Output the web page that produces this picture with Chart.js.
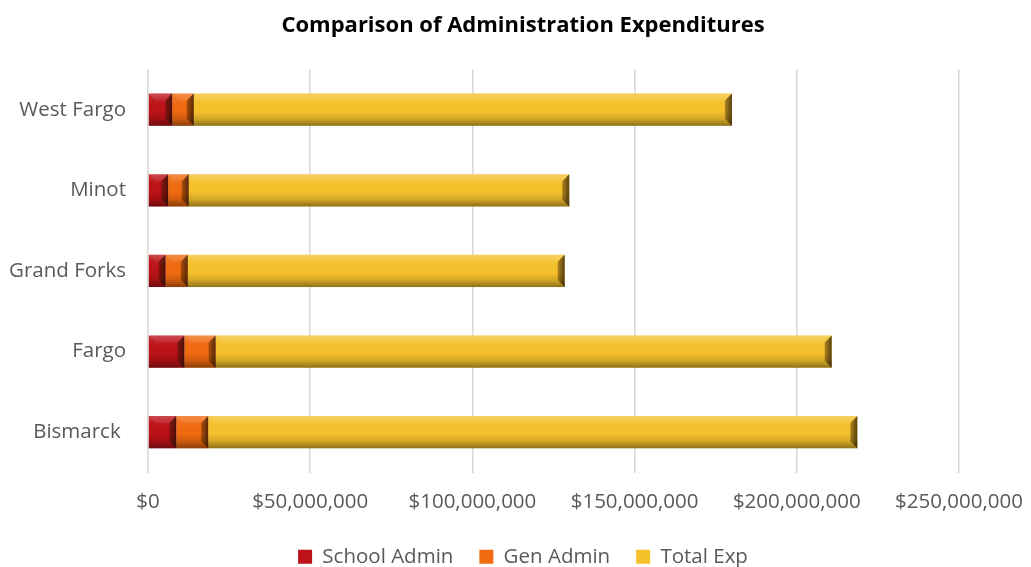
<!DOCTYPE html>
<html>
<head>
<meta charset="utf-8">
<script src="https://cdnjs.cloudflare.com/ajax/libs/Chart.js/4.4.1/chart.umd.js"></script>
<style>
html,body{margin:0;padding:0;background:#fff;}
#wrap{width:1031px;height:567px;position:relative;}
</style>
</head>
<body>
<div id="wrap"><canvas id="adminChart"></canvas></div>
<script>
const categories=['West Fargo','Minot','Grand Forks','Fargo','Bismarck '];
const seriesNames=['School Admin','Gen Admin','Total Exp'];
const schoolAdmin=[7450000,6200000,5400000,11200000,8700000];
const genAdmin=[6650000,6350000,6850000,9650000,9850000];
const totalExp=[165900000,117300000,116200000,189900000,200100000];
const xMax=250000000,xStep=50000000;
const faceColors=['#bc1218','#f06a10','#f5c12b'];

const fmtMoney=v=>'$'+Number(v).toLocaleString('en-US');

// bevel look drawn over each bar, using the bar element's own geometry
const bevelPlugin={
  id:'bevel',
  afterDatasetsDraw(chart){
    const ctx=chart.ctx;
    chart.data.datasets.forEach((ds,di)=>{
      const meta=chart.getDatasetMeta(di);
      if(meta.hidden) return;
      meta.data.forEach(el=>{
        const p=el.getProps(['x','y','base','height'],true);
        const l=Math.min(p.x,p.base),r=Math.max(p.x,p.base);
        const t=p.y-p.height/2,b=p.y+p.height/2;
        const w=r-l,bv=Math.min(7,w/2);
        ctx.save();
        const g=ctx.createLinearGradient(0,t,0,b);
        g.addColorStop(0,'rgba(255,255,255,0.18)');
        g.addColorStop(0.2,'rgba(255,255,255,0.04)');
        g.addColorStop(0.55,'rgba(0,0,0,0)');
        g.addColorStop(0.78,'rgba(0,0,0,0.14)');
        g.addColorStop(1,'rgba(0,0,0,0.42)');
        ctx.fillStyle=g;
        ctx.fillRect(l,t,w,b-t);
        // top highlight strip
        ctx.fillStyle='rgba(255,255,255,0.08)';
        ctx.beginPath();ctx.moveTo(l,t);ctx.lineTo(r,t);ctx.lineTo(r-bv,t+bv);ctx.lineTo(l+bv,t+bv);ctx.closePath();ctx.fill();
        // right dark edge
        const gr=ctx.createLinearGradient(r-bv,0,r,0);
        gr.addColorStop(0,'rgba(40,20,0,0.35)');
        gr.addColorStop(1,'rgba(30,15,0,0.72)');
        ctx.fillStyle=gr;
        ctx.beginPath();ctx.moveTo(r,t);ctx.lineTo(r,b);ctx.lineTo(r-bv,b-bv);ctx.lineTo(r-bv,t+bv);ctx.closePath();ctx.fill();
        ctx.restore();
      });
    });
  }
};

Chart.defaults.font.family='"Open Sans", Lato, sans-serif';
Chart.defaults.color='#595959';

new Chart(document.getElementById('adminChart'),{
  type:'bar',
  data:{
    labels:categories,
    datasets:[
      {label:seriesNames[0],data:schoolAdmin,backgroundColor:faceColors[0],borderWidth:0},
      {label:seriesNames[1],data:genAdmin,backgroundColor:faceColors[1],borderWidth:0},
      {label:seriesNames[2],data:totalExp,backgroundColor:faceColors[2],borderWidth:0}
    ]
  },
  options:{
    indexAxis:'y',
    responsive:true,maintainAspectRatio:false,animation:false,
    categoryPercentage:0.8,barPercentage:0.5,
    layout:{padding:{left:0,right:-15,top:0,bottom:-10}},
    plugins:{
      title:{display:true,text:'Comparison of Administration Expenditures',color:'#000',
        font:{size:22,weight:'bold'},padding:{top:13,bottom:30}},
      legend:{position:'bottom',labels:{boxWidth:14,boxHeight:14,padding:26,font:{size:20.5},color:'#595959'}},
      tooltip:{callbacks:{label:c=>`${c.dataset.label}: ${fmtMoney(c.raw)}`}}
    },
    scales:{
      x:{stacked:true,min:0,max:xMax,
        ticks:{stepSize:xStep,callback:v=>fmtMoney(v),font:{size:20.5},color:'#595959',padding:17,maxRotation:0},
        grid:{color:'#d9d9d9',lineWidth:1.6,drawTicks:false},
        border:{display:false},
        afterFit(s){s.height=48;s.paddingRight=72;}},
      y:{stacked:true,
        ticks:{font:{size:20.5},color:'#595959',padding:22},
        grid:{display:false,drawTicks:false},border:{display:false},
        afterFit(s){s.width=148;}}
    }
  },
  plugins:[bevelPlugin]
});
</script>
</body>
</html>
